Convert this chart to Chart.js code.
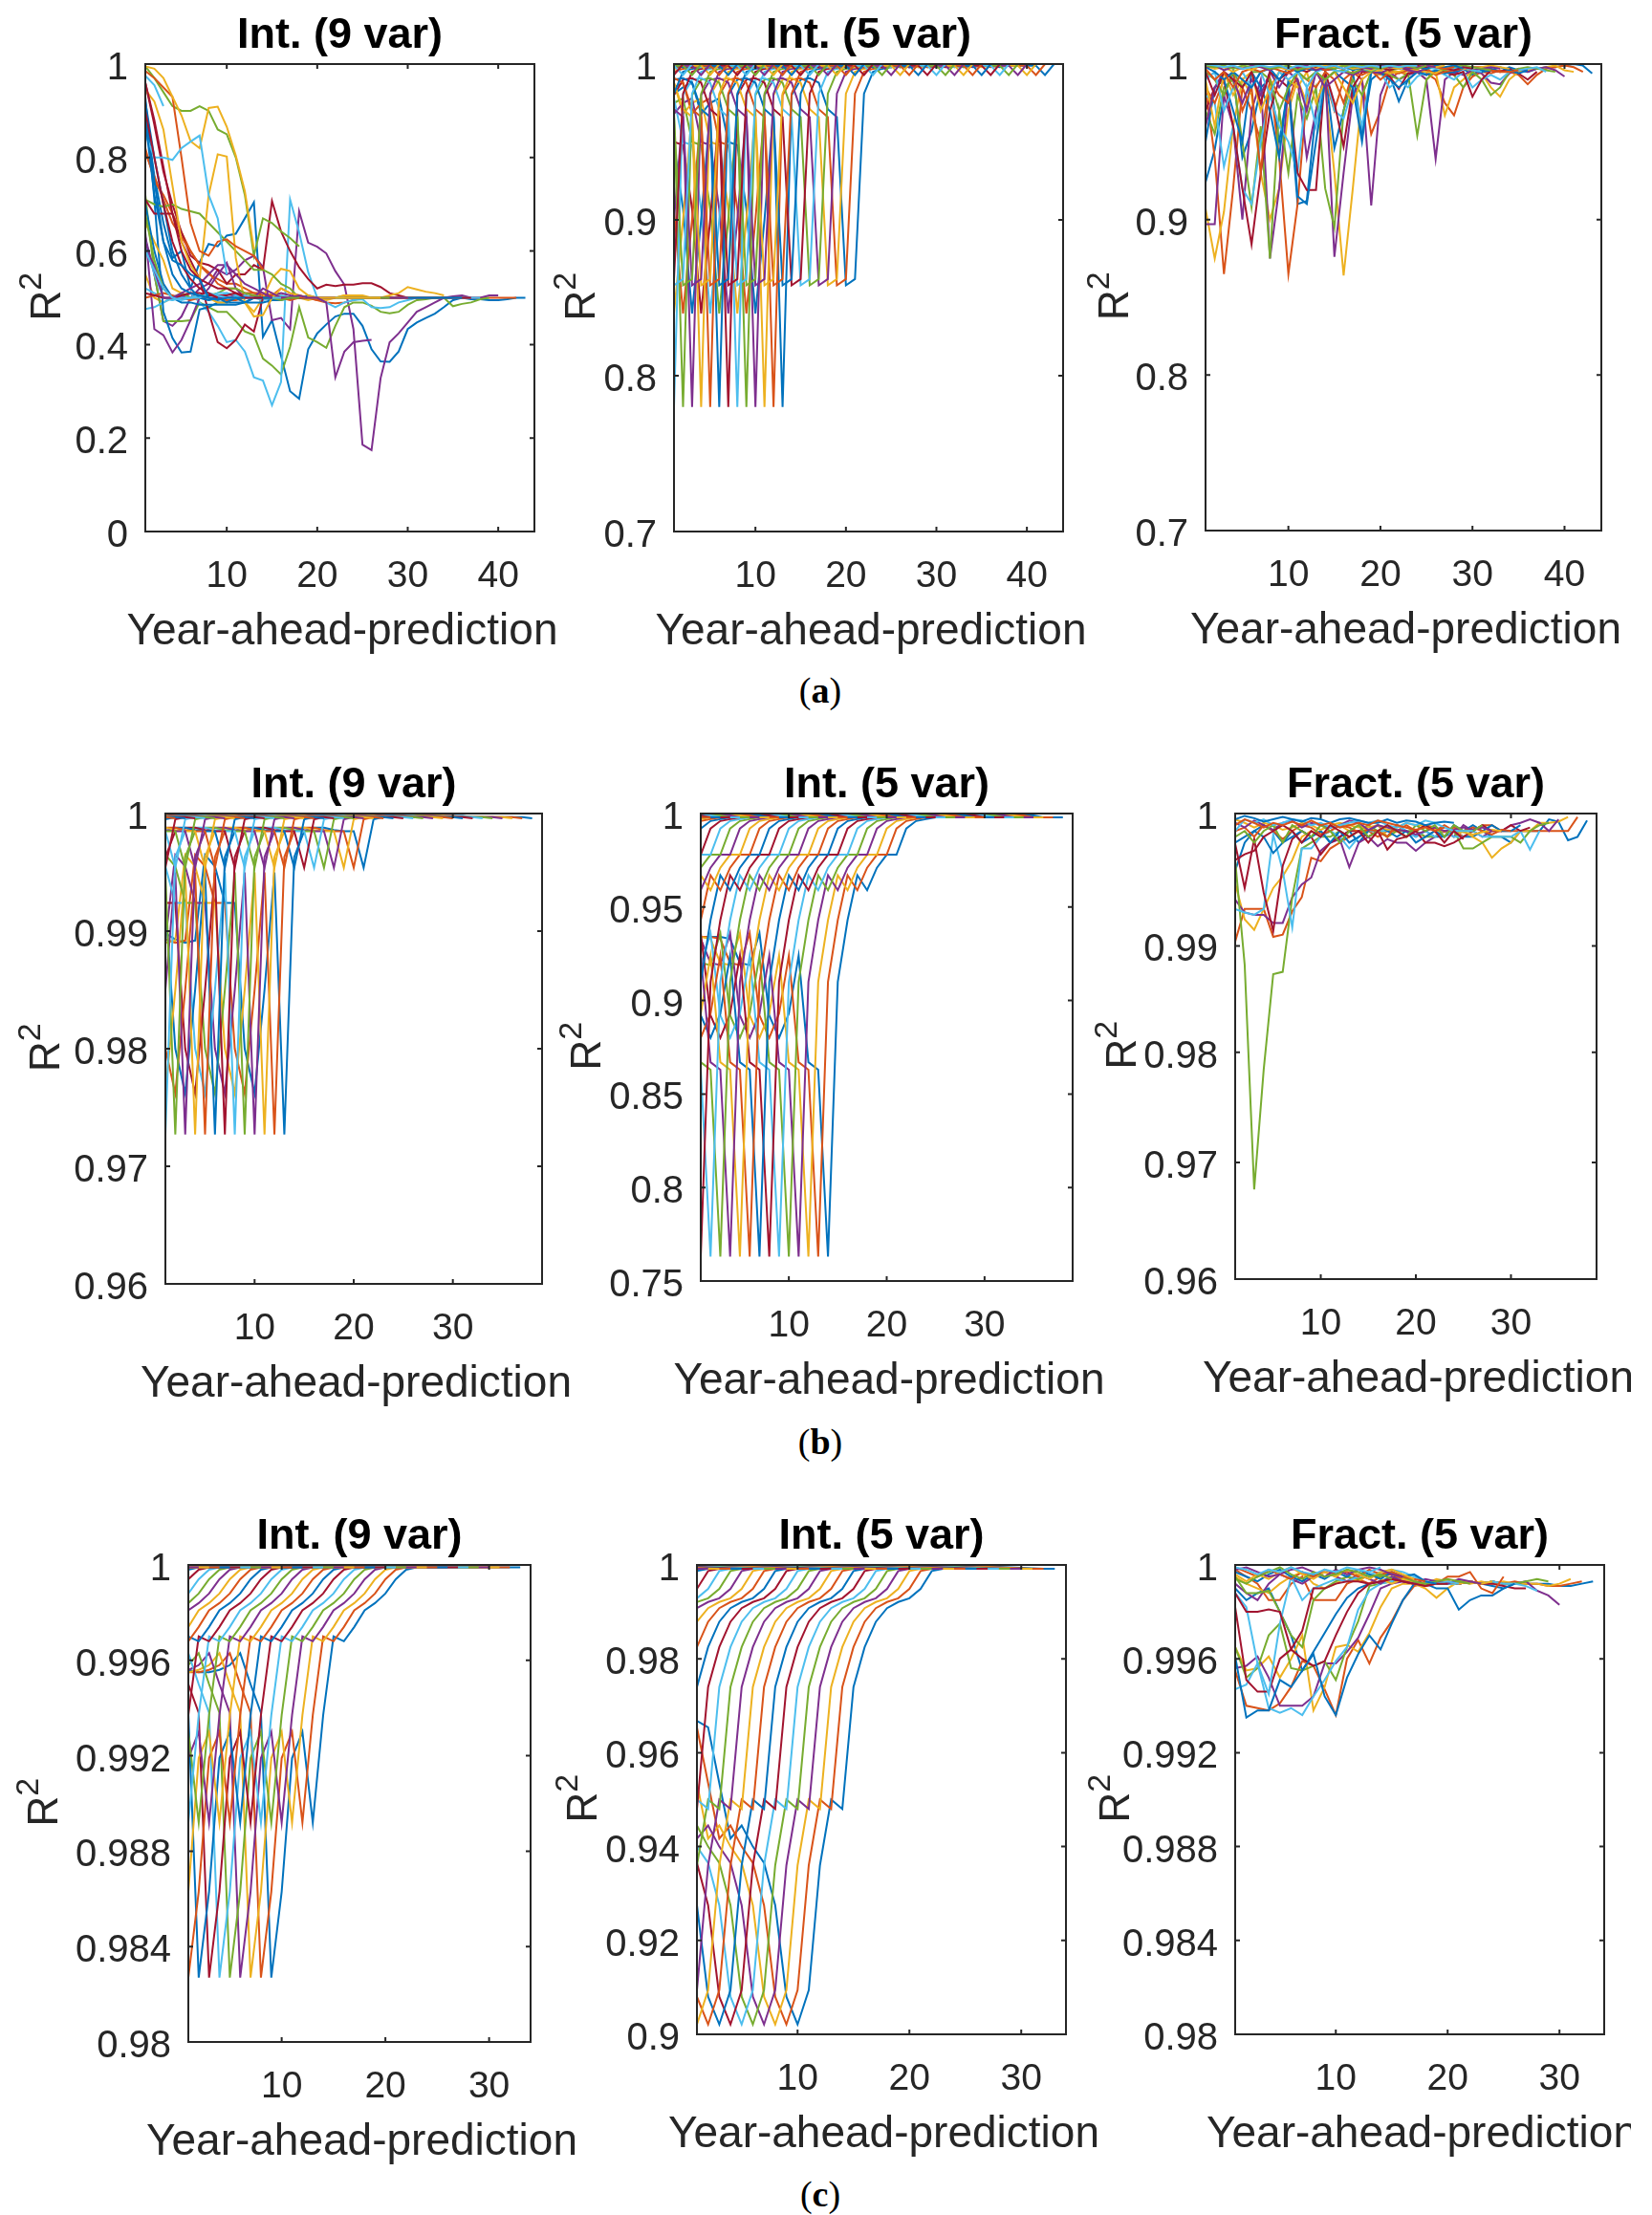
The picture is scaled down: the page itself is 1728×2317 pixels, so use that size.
<!DOCTYPE html>
<html>
<head>
<meta charset="utf-8">
<title>Year-ahead prediction R2</title>
<script src="https://cdn.jsdelivr.net/npm/chart.js@4"></script>
<style>
html, body { margin: 0; background: #fff; }
#page { position: relative; width: 1728px; height: 2317px; overflow: hidden; }
canvas { position: absolute; }
.cap { position: absolute; width: 100px; margin-left: -50px; text-align: center; font: 38px "Liberation Serif", serif; color: #000; line-height: 40px; }
</style>
</head>
<body>
<div id="page"></div>
<script>
'use strict';

const lineColors = ['#0072BD', '#D95319', '#EDB120', '#7E2F8E', '#77AC30', '#4DBEEE', '#A2142F'];

const yearsA = [1,2,3,4,5,6,7,8,9,10,11,12,13,14,15,16,17,18,19,20,21,22,23,24,25,26,27,28,29,30,31,32,33,34,35,36,37,38,39,40,41,42,43,44];
const ticksXA = [10,20,30,40], ticksXBC = [10,20,30];

// row (a), Int. (9 var); empty rows are lines lost in the bundle
const intNineA = [
[.9,.76,.66,.585,.6,.52,.576,.615,.61,.633,.637,.67,.704,.416,.452,.376,.3,.284,.39,.424,.443,.46,.466,.466,.44,.39,.364,.363,.385,.433,.447,.457,.466,.48,.495,.5,.497,.497,.495,.495,.497,.5,.5],
[.82,.75,.72,.68,.64,.6,.57,.55,.54,.53,.53,.52,.51,.51,.505,.52,.51,.505,.5,.495,.49,.488,.49,.495,.5,.5,.5,.5,.5,.5,.5,.5,.5,.5,.5,.5,.5,.5,.5,.5,.5,.5],
[.55,.5,.49,.5,.505,.51,.505,.5,.5,.495,.5,.505,.5,.5,.51,.505,.5,.5,.495,.5,.5,.5,.505,.5,.5,.5,.5,.5,.5,.5,.5,.5,.5,.5,.5,.5],
[.63,.55,.45,.44,.46,.5,.52,.53,.56,.55,.56,.58,.59,.566,.452,.457,.433,.685,.618,.609,.595,.557,.528,.433,.186,.174,.328,.405,.424,.447,.47,.48,.49,.5,.503,.505,.5,.5,.505,.505],
[.72,.55,.45,.45,.45,.452,.49,.48,.47,.47,.45,.428,.42,.37,.355,.336,.395,.48,.415,.405,.393,.44,.48,.49,.49,.483,.47,.467,.47,.485,.495,.497,.5,.5,.482,.487,.49,.497,.5],
[.476,.48,.49,.5,.505,.51,.49,.47,.44,.405,.41,.385,.33,.323,.27,.32,.71,.64,.555,.5,.49,.48,.49,.495,.497,.48,.478,.48,.49,.495,.5,.5,.5,.5,.5,.5,.5,.5],
[.96,.87,.77,.7,.64,.59,.575,.57,.56,.53,.55,.55,.57,.56,.707,.642,.6,.565,.54,.52,.528,.525,.528,.528,.531,.531,.523,.51,.505,.5,.5,.5,.5,.5,.5,.5,.5],
[.93,.71,.47,.414,.383,.385,.475,.48,.49,.49,.49,.49,.5,.5,.495,.5,.5,.5,.505,.5,.5,.5,.5,.5,.5,.5,.5,.5,.5,.5,.5,.5,.5,.5,.5,.5],
[.81,.76,.71,.66,.63,.6,.57,.555,.53,.52,.52,.51,.51,.505,.5,.5,.5,.5,.5,.495,.5,.5,.5,.5,.5,.5,.5,.5,.5,.5],
[.66,.62,.58,.52,.51,.5,.5,.5,.49,.49,.5,.49,.47,.5,.542,.562,.557,.52,.505,.5,.495,.5,.505,.505,.505,.5,.5,.505,.51,.523,.518,.513,.51,.505],
[.64,.433,.42,.383,.41,.452,.5,.52,.55,.575,.52,.5,.5,.5,.505,.51,.505,.5,.5,.5,.5,.5,.5,.5,.5,.5,.5,.5,.5,.5],
[.71,.7,.695,.7,.69,.685,.68,.66,.64,.62,.6,.58,.56,.56,.55,.53,.52,.5,.5,.5,.5,.5,.5,.5,.5,.5,.5,.5],
[.52,.51,.5,.495,.505,.5,.5,.495,.5,.51,.505,.5,.5,.495,.5,.505,.5,.5,.5,.5,.5,.5,.5],
[.71,.68,.68,.68,.62,.58,.54,.47,.405,.392,.41,.443,.428,.5,.505,.5,.5,.5,.5,.5,.5,.5],
[.7,.6,.53,.5,.49,.49,.485,.485,.485,.485,.485,.49,.49,.49,.495,.495,.5,.5,.5,.5],
[.5,.505,.51,.505,.5,.495,.5,.505,.5,.495,.495,.5,.505,.5,.505,.5,.495,.5,.5,.5],
[.945,.92,.86,.74,.62,.57,.54,.72,.807,.802,.585,.49,.46,.463,.5,.52,.51,.505,.5,.5,.5,.5,.5,.5,.5,.5,.5],
[.6,.57,.52,.5,.5,.51,.505,.5,.5,.5,.505,.5,.5,.52,.51,.5,.5,.505,.5,.5,.49,.33,.385,.405,.408,.41],
[.68,.58,.52,.5,.51,.5,.505,.505,.51,.52,.52,.51,.505,.5,.5,.495,.5,.5],
[.62,.55,.5,.495,.5,.5,.505,.5,.51,.51,.505,.5,.5,.5,.5,.5],
[.51,.505,.5,.5,.505,.51,.51,.505,.505,.505,.51,.505,.5,.5,.5],
[.92,.8,.7,.6,.55,.52,.5,.495,.5,.49,.5,.49,.5,.5,.5],
[],
[],
[.62,.56,.5,.5,.51,.52,.53,.55,.57,.57,.55,.53,.52,.51,.5],
[.995,.97,.94,.91,.9,.9,.91,.9,.86,.85,.8,.72,.59,.67,.66,.642,.628,.61],
[.6,.56,.52,.5,.495,.5,.5,.51,.505,.5,.5,.505,.5],
[.96,.88,.78,.68,.6,.56,.54,.53,.52,.52,.51,.5,.5,.5],
[.9,.75,.62,.55,.52,.51,.505,.5,.495,.5,.5,.5],
[.985,.97,.95,.93,.8,.66,.6,.59,.62,.625,.61,.6,.59,.56],
[.995,.99,.97,.93,.89,.835,.82,.906,.909,.866,.804,.728,.604],
[],
[],
[.85,.8,.8,.795,.82,.834,.847,.72,.67,.55],
[.9,.8,.7,.62,.57,.54,.52,.51,.5],
[.88,.72,.62,.58,.57,.55,.54,.5],
[],
[],
[],
[],
[.975,.955,.91]
];

// row (a), Int. (5 var)
const intFiveA = [
[.981,.985,.988,.968,.975,.978,.95,.948,.907,.84,.9,.97,.78,.98,.99,.991,.988,.971,.966,.858,.862,.981,.995,.997,.998,.999,.998,.999,.999,.998,.999,.999,.998,.999,.999,.999,.998,.999,.999,.999,.999,.993,1],
[.985,.988,.968,.975,.978,.95,.948,.907,.84,.9,.97,.78,.98,.99,.991,.988,.971,.966,.858,.862,.981,.995,.997,.998,.999,.998,.999,.999,.998,.999,.999,.998,.999,.999,.999,.998,.999,.999,.999,.999,.993,1],
[.988,.968,.975,.978,.95,.948,.907,.84,.9,.97,.78,.98,.99,.991,.988,.971,.966,.858,.862,.981,.995,.997,.998,.999,.998,.999,.999,.998,.999,.999,.998,.999,.999,.999,.998,.999,.999,.999,.999,.993,1],
[.968,.975,.978,.95,.948,.907,.84,.9,.97,.78,.98,.99,.991,.988,.971,.966,.858,.862,.981,.995,.997,.998,.999,.998,.999,.999,.998,.999,.999,.998,.999,.999,.999,.998,.999,.999,.999,.999,.993,1],
[.975,.978,.95,.948,.907,.84,.9,.97,.78,.98,.99,.991,.988,.971,.966,.858,.862,.981,.995,.997,.998,.999,.998,.999,.999,.998,.999,.999,.998,.999,.999,.999,.998,.999,.999,.999,.999,.993,1],
[.978,.95,.948,.907,.84,.9,.97,.78,.98,.99,.991,.988,.971,.966,.858,.862,.981,.995,.997,.998,.999,.998,.999,.999,.998,.999,.999,.998,.999,.999,.999,.998,.999,.999,.999,.999,.993,1],
[.95,.948,.907,.84,.9,.97,.78,.98,.99,.991,.988,.971,.966,.858,.862,.981,.995,.997,.998,.999,.998,.999,.999,.998,.999,.999,.998,.999,.999,.999,.998,.999,.999,.999,.999,.993,1],
[.948,.907,.84,.9,.97,.78,.98,.99,.991,.988,.971,.966,.858,.862,.981,.995,.997,.998,.999,.998,.999,.999,.998,.999,.999,.998,.999,.999,.999,.998,.999,.999,.999,.999,.993,1],
[.907,.84,.9,.97,.78,.98,.99,.991,.988,.971,.966,.858,.862,.981,.995,.997,.998,.999,.998,.999,.999,.998,.999,.999,.998,.999,.999,.999,.998,.999,.999,.999,.999,.993,1],
[.84,.9,.97,.78,.98,.99,.991,.988,.971,.966,.858,.862,.981,.995,.997,.998,.999,.998,.999,.999,.998,.999,.999,.998,.999,.999,.999,.998,.999,.999,.999,.999,.993,1],
[.9,.97,.78,.98,.99,.991,.988,.971,.966,.858,.862,.981,.995,.997,.998,.999,.998,.999,.999,.998,.999,.999,.998,.999,.999,.999,.998,.999,.999,.999,.999,.993,1],
[.97,.78,.98,.99,.991,.988,.971,.966,.858,.862,.981,.995,.997,.998,.999,.998,.999,.999,.998,.999,.999,.998,.999,.999,.999,.998,.999,.999,.999,.999,.993,1],
[.78,.98,.99,.991,.988,.971,.966,.858,.862,.981,.995,.997,.998,.999,.998,.999,.999,.998,.999,.999,.998,.999,.999,.999,.998,.999,.999,.999,.999,.993,1],
[.98,.99,.991,.988,.971,.966,.858,.862,.981,.995,.997,.998,.999,.998,.999,.999,.998,.999,.999,.998,.999,.999,.999,.998,.999,.999,.999,.999,.993,1],
[.99,.991,.988,.971,.966,.858,.862,.981,.995,.997,.998,.999,.998,.999,.999,.998,.999,.999,.998,.999,.999,.999,.998,.999,.999,.999,.999,.993,1],
[.991,.988,.971,.966,.858,.862,.981,.995,.997,.998,.999,.998,.999,.999,.998,.999,.999,.998,.999,.999,.999,.998,.999,.999,.999,.999,.993,1],
[.988,.971,.966,.858,.862,.981,.995,.997,.998,.999,.998,.999,.999,.998,.999,.999,.998,.999,.999,.999,.998,.999,.999,.999,.999,.993,1],
[.971,.966,.858,.862,.981,.995,.997,.998,.999,.998,.999,.999,.998,.999,.999,.998,.999,.999,.999,.998,.999,.999,.999,.999,.993,1],
[.966,.858,.862,.981,.995,.997,.998,.999,.998,.999,.999,.998,.999,.999,.998,.999,.999,.999,.998,.999,.999,.999,.999,.993,1],
[.858,.862,.981,.995,.997,.998,.999,.998,.999,.999,.998,.999,.999,.998,.999,.999,.999,.998,.999,.999,.999,.999,.993,1],
[.862,.981,.995,.997,.998,.999,.998,.999,.999,.998,.999,.999,.998,.999,.999,.999,.998,.999,.999,.999,.999,.993,1],
[.981,.995,.997,.998,.999,.998,.999,.999,.998,.999,.999,.998,.999,.999,.999,.998,.999,.999,.999,.999,.993,1],
[.995,.997,.998,.999,.998,.999,.999,.998,.999,.999,.998,.999,.999,.999,.998,.999,.999,.999,.999,.993,1],
[.997,.998,.999,.998,.999,.999,.998,.999,.999,.998,.999,.999,.999,.998,.999,.999,.999,.999,.993,1],
[.998,.999,.998,.999,.999,.998,.999,.999,.998,.999,.999,.999,.998,.999,.999,.999,.999,.993,1],
[.999,.998,.999,.999,.998,.999,.999,.998,.999,.999,.999,.998,.999,.999,.999,.999,.993,1],
[.998,.999,.999,.998,.999,.999,.998,.999,.999,.999,.998,.999,.999,.999,.999,.993,1],
[.999,.999,.998,.999,.999,.998,.999,.999,.999,.998,.999,.999,.999,.999,.993,1],
[.999,.998,.999,.999,.998,.999,.999,.999,.998,.999,.999,.999,.999,.993,1],
[.998,.999,.999,.998,.999,.999,.999,.998,.999,.999,.999,.999,.993,1],
[.999,.999,.998,.999,.999,.999,.998,.999,.999,.999,.999,.993,1],
[.999,.998,.999,.999,.999,.998,.999,.999,.999,.999,.993,1],
[.998,.999,.999,.999,.998,.999,.999,.999,.999,.993,1],
[.999,.999,.999,.998,.999,.999,.999,.999,.993,1],
[.999,.999,.998,.999,.999,.999,.999,.993,1],
[.999,.998,.999,.999,.999,.999,.993,1],
[.998,.999,.999,.999,.999,.993,1],
[.999,.999,.999,.999,.993,1],
[.999,.999,.999,.993,1],
[.999,.999,.993,1],
[.999,.993,1],
[.993,1]
];

// row (a), Fract. (5 var)
const fractFiveA = [
[.924,.945,.98,.995,.94,.957,.985,.99,.95,.985,.91,.912,.97,.995,.946,.97,.995,.955,.99,.995,.993,.976,.99,.995,.993,.996,.995,.994,.997,.993,.996,.997,.995,.998,.996,.995,.997,.998,.998,.999,1,.999,.994],
[.985,.94,.865,.92,.985,.97,.95,.99,.94,.865,.91,.98,.995,.99,.97,.99,.995,.99,.955,.97,.99,.995,.993,.996,.994,.99,.975,.967,.985,.992,.995,.994,.996,.995,.993,.987,.993,.997,.998,.999,.998,.995],
[.907,.875,.905,.96,.99,.98,.93,.9,.92,.97,.99,.975,.995,.985,.93,.864,.92,.98,.995,.993,.996,.995,.994,.995,.99,.995,.967,.985,.99,.996,.994,.985,.979,.99,.995,.996,.997,.998,.999,.996,.995],
[.897,.897,.98,.96,.9,.97,.99,.875,.92,.985,.99,.94,.97,.995,.876,.93,.98,.99,.909,.98,.995,.99,.993,.995,.99,.939,.99,.995,.993,.996,.994,.988,.987,.994,.997,.995,.997,.998,.996,.992],
[.97,.955,.985,.99,.95,.908,.96,.875,.97,.93,.98,.965,.985,.92,.895,.97,.99,.98,.995,.995,.993,.99,.994,.954,.99,.996,.995,.993,.985,.995,.99,.98,.985,.995,.997,.998,.997,.996,.995],
[.98,.975,.934,.96,.92,.91,.95,.98,.96,.95,.93,.985,.96,.995,.97,.965,.985,.96,.995,.995,.985,.99,.985,.992,.995,.996,.993,.99,.995,.985,.99,.993,.99,.995,.996,.997,.998,.995],
[.97,.985,.99,.96,.92,.884,.93,.97,.99,.985,.93,.919,.919,.995,.975,.947,.985,.995,.995,.994,.992,.984,.994,.995,.996,.994,.995,.993,.995,.979,.99,.996,.995,.997,.994,.99,.995],
[.95,.985,.99,.97,.95,.995,.985,.97,.94,.99,.915,.91,.95,.99,.995,.99,.985,.95,.995,.995,.99,.985,.99,.995,.993,.996,.994,.995,.997,.996,.995,.996,.998,.996,.994,.996],
[.985,.975,.99,.995,.97,.985,.93,.99,.98,.975,.995,.99,.985,.995,.99,.975,.995,.993,.996,.99,.995,.994,.996,.995,.997,.993,.995,.996,.997,.998,.998,.996,.995,.995,.996],
[.99,.96,.995,.98,.99,.995,.97,.985,.995,.99,.985,.995,.975,.99,.995,.985,.975,.99,.995,.996,.994,.995,.997,.996,.995,.994,.997,.998,.997,.996,.998,.999,.998,.997],
[.96,.985,.995,.99,.975,.99,.98,.995,.985,.995,.99,.97,.995,.985,.99,.995,.993,.996,.995,.994,.997,.998,.996,.995,.997,.998,.997,.999,.998,.996,.997,.998,.997],
[.995,.99,.98,.995,.985,.995,.995,.99,.97,.985,.995,.99,.995,.99,.995,.996,.994,.997,.995,.998,.996,.997,.999,.998,.997,.998,.996,.998,.999,.998,.997,.996],
[.99,.995,.97,.985,.995,.985,.995,.98,.995,.99,.995,.985,.995,.997,.996,.995,.998,.997,.996,.998,.999,.997,.998,.999,.998,.997,.998,.997,.998,.996,.995],
[.995,.98,.995,.99,.985,.995,.975,.995,.99,.995,.997,.995,.998,.996,.997,.999,.998,.997,.999,.998,.996,.998,.997,.999,.998,.999,.997,.996,.998,.997],
[.998,.995,.99,.995,.99,.985,.995,.997,.99,.998,.995,.997,.996,.998,.997,.999,.996,.998,.997,.999,.998,.997,.999,.998,.997,.999,.998,.999,.997],
[.997,.99,.995,.985,.995,.997,.995,.998,.996,.994,.998,.997,.999,.996,.998,.997,.999,.998,.999,.997,.998,.999,.998,.997,.999,.998,.997,.998],
[.999,.997,.998,.995,.998,.996,.999,.997,.998,.996,.999,.998,.997,.999,.998,.999,.997,.998,.996,.999,.998,.997,.999,.998,.999,.998,.999],
[.998,.999,.996,.998,.997,.999,.998,.996,.999,.997,.998,.999,.996,.998,.999,.997,.999,.998,.997,.999,.998,.999,.997,.998,.999,.998],
[.999,.998,.999,.997,.999,.998,.999,.997,.998,.999,.996,.998,.999,.998,.997,.999,.998,.999,.998,.997,.999,.998,.999,.997,.999],
[1,.999,.998,.999,.997,.998,.999,.998,.999,.997,.999,.998,.999,.998,.999,.997,.999,.998,.999,.998,.999,.998,.999,.999]
];

// row (b), Int. (9 var)
const intNineB = [
[.9898,.9893,.989,.9892,.9965,.9955,.9924,.9924,.98,.9762,.985,.995,.9727,.9963,.9985,.9988,.9988,.9986,.9985,.9985,.9954,.9995,.9997,.9998,.9998,.9999,.9999,.9999,.9998,.9998,.9998,.9997,.9997,.9997,.9997,.9997,.9997,.9996],
[.9893,.989,.9892,.9965,.9955,.9924,.9924,.98,.9762,.985,.995,.9727,.9963,.9985,.9988,.9988,.9986,.9985,.9985,.9954,.9995,.9997,.9998,.9998,.9999,.9999,.9999,.9998,.9998,.9998,.9997,.9997,.9997,.9997,.9997,.9997,.9996],
[.989,.9892,.9965,.9955,.9924,.9924,.98,.9762,.985,.995,.9727,.9963,.9985,.9988,.9988,.9986,.9985,.9985,.9954,.9995,.9997,.9998,.9998,.9999,.9999,.9999,.9998,.9998,.9998,.9997,.9997,.9997,.9997,.9997,.9997,.9996],
[.9892,.9965,.9955,.9924,.9924,.98,.9762,.985,.995,.9727,.9963,.9985,.9988,.9988,.9986,.9985,.9985,.9954,.9995,.9997,.9998,.9998,.9999,.9999,.9999,.9998,.9998,.9998,.9997,.9997,.9997,.9997,.9997,.9997,.9996],
[.9965,.9955,.9924,.9924,.98,.9762,.985,.995,.9727,.9963,.9985,.9988,.9988,.9986,.9985,.9985,.9954,.9995,.9997,.9998,.9998,.9999,.9999,.9999,.9998,.9998,.9998,.9997,.9997,.9997,.9997,.9997,.9997,.9996],
[.9955,.9924,.9924,.98,.9762,.985,.995,.9727,.9963,.9985,.9988,.9988,.9986,.9985,.9985,.9954,.9995,.9997,.9998,.9998,.9999,.9999,.9999,.9998,.9998,.9998,.9997,.9997,.9997,.9997,.9997,.9997,.9996],
[.9924,.9924,.98,.9762,.985,.995,.9727,.9963,.9985,.9988,.9988,.9986,.9985,.9985,.9954,.9995,.9997,.9998,.9998,.9999,.9999,.9999,.9998,.9998,.9998,.9997,.9997,.9997,.9997,.9997,.9997,.9996],
[.9924,.98,.9762,.985,.995,.9727,.9963,.9985,.9988,.9988,.9986,.9985,.9985,.9954,.9995,.9997,.9998,.9998,.9999,.9999,.9999,.9998,.9998,.9998,.9997,.9997,.9997,.9997,.9997,.9997,.9996],
[.98,.9762,.985,.995,.9727,.9963,.9985,.9988,.9988,.9986,.9985,.9985,.9954,.9995,.9997,.9998,.9998,.9999,.9999,.9999,.9998,.9998,.9998,.9997,.9997,.9997,.9997,.9997,.9997,.9996],
[.9762,.985,.995,.9727,.9963,.9985,.9988,.9988,.9986,.9985,.9985,.9954,.9995,.9997,.9998,.9998,.9999,.9999,.9999,.9998,.9998,.9998,.9997,.9997,.9997,.9997,.9997,.9997,.9996],
[.985,.995,.9727,.9963,.9985,.9988,.9988,.9986,.9985,.9985,.9954,.9995,.9997,.9998,.9998,.9999,.9999,.9999,.9998,.9998,.9998,.9997,.9997,.9997,.9997,.9997,.9997,.9996],
[.995,.9727,.9963,.9985,.9988,.9988,.9986,.9985,.9985,.9954,.9995,.9997,.9998,.9998,.9999,.9999,.9999,.9998,.9998,.9998,.9997,.9997,.9997,.9997,.9997,.9997,.9996],
[.9727,.9963,.9985,.9988,.9988,.9986,.9985,.9985,.9954,.9995,.9997,.9998,.9998,.9999,.9999,.9999,.9998,.9998,.9998,.9997,.9997,.9997,.9997,.9997,.9997,.9996],
[.9963,.9985,.9988,.9988,.9986,.9985,.9985,.9954,.9995,.9997,.9998,.9998,.9999,.9999,.9999,.9998,.9998,.9998,.9997,.9997,.9997,.9997,.9997,.9997,.9996],
[.9985,.9988,.9988,.9986,.9985,.9985,.9954,.9995,.9997,.9998,.9998,.9999,.9999,.9999,.9998,.9998,.9998,.9997,.9997,.9997,.9997,.9997,.9997,.9996],
[.9988,.9988,.9986,.9985,.9985,.9954,.9995,.9997,.9998,.9998,.9999,.9999,.9999,.9998,.9998,.9998,.9997,.9997,.9997,.9997,.9997,.9997,.9996],
[.9988,.9986,.9985,.9985,.9954,.9995,.9997,.9998,.9998,.9999,.9999,.9999,.9998,.9998,.9998,.9997,.9997,.9997,.9997,.9997,.9997,.9996],
[.9986,.9985,.9985,.9954,.9995,.9997,.9998,.9998,.9999,.9999,.9999,.9998,.9998,.9998,.9997,.9997,.9997,.9997,.9997,.9997,.9996],
[.9985,.9985,.9954,.9995,.9997,.9998,.9998,.9999,.9999,.9999,.9998,.9998,.9998,.9997,.9997,.9997,.9997,.9997,.9997,.9996],
[.9985,.9954,.9995,.9997,.9998,.9998,.9999,.9999,.9999,.9998,.9998,.9998,.9997,.9997,.9997,.9997,.9997,.9997,.9996],
[.9954,.9995,.9997,.9998,.9998,.9999,.9999,.9999,.9998,.9998,.9998,.9997,.9997,.9997,.9997,.9997,.9997,.9996],
[.9995,.9997,.9998,.9998,.9999,.9999,.9999,.9998,.9998,.9998,.9997,.9997,.9997,.9997,.9997,.9997,.9996],
[.9997,.9998,.9998,.9999,.9999,.9999,.9998,.9998,.9998,.9997,.9997,.9997,.9997,.9997,.9997,.9996],
[.9998,.9998,.9999,.9999,.9999,.9998,.9998,.9998,.9997,.9997,.9997,.9997,.9997,.9997,.9996],
[.9998,.9999,.9999,.9999,.9998,.9998,.9998,.9997,.9997,.9997,.9997,.9997,.9997,.9996],
[.9999,.9999,.9999,.9998,.9998,.9998,.9997,.9997,.9997,.9997,.9997,.9997,.9996],
[.9999,.9999,.9998,.9998,.9998,.9997,.9997,.9997,.9997,.9997,.9997,.9996],
[.9999,.9998,.9998,.9998,.9997,.9997,.9997,.9997,.9997,.9997,.9996],
[.9998,.9998,.9998,.9997,.9997,.9997,.9997,.9997,.9997,.9996],
[.9998,.9998,.9997,.9997,.9997,.9997,.9997,.9997,.9996],
[.9998,.9997,.9997,.9997,.9997,.9997,.9997,.9996],
[.9997,.9997,.9997,.9997,.9997,.9997,.9996],
[.9997,.9997,.9997,.9997,.9997,.9996],
[.9997,.9997,.9997,.9997,.9996],
[.9997,.9997,.9997,.9996],
[.9997,.9997,.9996],
[.9997,.9996],
[.9996]
];

// row (b), Int. (5 var)
const intFiveB = [
[.934,.934,.934,.933,.92,.919,.936,.892,.88,.893,.924,.867,.863,.763,.91,.943,.967,.959,.971,.978,.978,.992,.996,.997,.998,.998,.998,.999,.999,.999,.999,.999,.999,.999,.999,.998,.998,.998],
[.934,.934,.933,.92,.919,.936,.892,.88,.893,.924,.867,.863,.763,.91,.943,.967,.959,.971,.978,.978,.992,.996,.997,.998,.998,.998,.999,.999,.999,.999,.999,.999,.999,.999,.998,.998,.998],
[.934,.933,.92,.919,.936,.892,.88,.893,.924,.867,.863,.763,.91,.943,.967,.959,.971,.978,.978,.992,.996,.997,.998,.998,.998,.999,.999,.999,.999,.999,.999,.999,.999,.998,.998,.998],
[.933,.92,.919,.936,.892,.88,.893,.924,.867,.863,.763,.91,.943,.967,.959,.971,.978,.978,.992,.996,.997,.998,.998,.998,.999,.999,.999,.999,.999,.999,.999,.999,.998,.998,.998],
[.92,.919,.936,.892,.88,.893,.924,.867,.863,.763,.91,.943,.967,.959,.971,.978,.978,.992,.996,.997,.998,.998,.998,.999,.999,.999,.999,.999,.999,.999,.999,.998,.998,.998],
[.919,.936,.892,.88,.893,.924,.867,.863,.763,.91,.943,.967,.959,.971,.978,.978,.992,.996,.997,.998,.998,.998,.999,.999,.999,.999,.999,.999,.999,.999,.998,.998,.998],
[.936,.892,.88,.893,.924,.867,.863,.763,.91,.943,.967,.959,.971,.978,.978,.992,.996,.997,.998,.998,.998,.999,.999,.999,.999,.999,.999,.999,.999,.998,.998,.998],
[.892,.88,.893,.924,.867,.863,.763,.91,.943,.967,.959,.971,.978,.978,.992,.996,.997,.998,.998,.998,.999,.999,.999,.999,.999,.999,.999,.999,.998,.998,.998],
[.88,.893,.924,.867,.863,.763,.91,.943,.967,.959,.971,.978,.978,.992,.996,.997,.998,.998,.998,.999,.999,.999,.999,.999,.999,.999,.999,.998,.998,.998],
[.893,.924,.867,.863,.763,.91,.943,.967,.959,.971,.978,.978,.992,.996,.997,.998,.998,.998,.999,.999,.999,.999,.999,.999,.999,.999,.998,.998,.998],
[.924,.867,.863,.763,.91,.943,.967,.959,.971,.978,.978,.992,.996,.997,.998,.998,.998,.999,.999,.999,.999,.999,.999,.999,.999,.998,.998,.998],
[.867,.863,.763,.91,.943,.967,.959,.971,.978,.978,.992,.996,.997,.998,.998,.998,.999,.999,.999,.999,.999,.999,.999,.999,.998,.998,.998],
[.863,.763,.91,.943,.967,.959,.971,.978,.978,.992,.996,.997,.998,.998,.998,.999,.999,.999,.999,.999,.999,.999,.999,.998,.998,.998],
[.763,.91,.943,.967,.959,.971,.978,.978,.992,.996,.997,.998,.998,.998,.999,.999,.999,.999,.999,.999,.999,.999,.998,.998,.998],
[.91,.943,.967,.959,.971,.978,.978,.992,.996,.997,.998,.998,.998,.999,.999,.999,.999,.999,.999,.999,.999,.998,.998,.998],
[.943,.967,.959,.971,.978,.978,.992,.996,.997,.998,.998,.998,.999,.999,.999,.999,.999,.999,.999,.999,.998,.998,.998],
[.967,.959,.971,.978,.978,.992,.996,.997,.998,.998,.998,.999,.999,.999,.999,.999,.999,.999,.999,.998,.998,.998],
[.959,.971,.978,.978,.992,.996,.997,.998,.998,.998,.999,.999,.999,.999,.999,.999,.999,.999,.998,.998,.998],
[.971,.978,.978,.992,.996,.997,.998,.998,.998,.999,.999,.999,.999,.999,.999,.999,.999,.998,.998,.998],
[.978,.978,.992,.996,.997,.998,.998,.998,.999,.999,.999,.999,.999,.999,.999,.999,.998,.998,.998],
[.978,.992,.996,.997,.998,.998,.998,.999,.999,.999,.999,.999,.999,.999,.999,.998,.998,.998],
[.992,.996,.997,.998,.998,.998,.999,.999,.999,.999,.999,.999,.999,.999,.998,.998,.998],
[.996,.997,.998,.998,.998,.999,.999,.999,.999,.999,.999,.999,.999,.998,.998,.998],
[.997,.998,.998,.998,.999,.999,.999,.999,.999,.999,.999,.999,.998,.998,.998],
[.998,.998,.998,.999,.999,.999,.999,.999,.999,.999,.999,.998,.998,.998],
[.998,.998,.999,.999,.999,.999,.999,.999,.999,.999,.998,.998,.998],
[.998,.999,.999,.999,.999,.999,.999,.999,.999,.998,.998,.998],
[.999,.999,.999,.999,.999,.999,.999,.999,.998,.998,.998],
[.999,.999,.999,.999,.999,.999,.999,.998,.998,.998],
[.999,.999,.999,.999,.999,.999,.998,.998,.998],
[.999,.999,.999,.999,.999,.998,.998,.998],
[.999,.999,.999,.999,.998,.998,.998],
[.999,.999,.999,.998,.998,.998],
[.999,.999,.998,.998,.998],
[.999,.998,.998,.998],
[.998,.998,.998],
[.998,.998],
[.998]
];

// row (b), Fract. (5 var)
const fractFiveB = [
[.9951,.9975,.9985,.999,.9985,.9975,.9985,.9975,.998,.9985,.9975,.998,.9985,.9975,.9985,.9985,.998,.999,.9985,.998,.9985,.998,.998,.9985,.998,.998,.9985,.998,.998,.9975,.9985,.9985,.9985,.9995,.9993,.9977,.998,.9994],
[.989,.9918,.9918,.9918,.9894,.9896,.9916,.9928,.9962,.9959,.997,.9975,.998,.9985,.9985,.998,.9985,.9985,.999,.9985,.998,.9985,.999,.9985,.998,.9985,.999,.999,.9985,.9985,.9985,.9985,.9985,.9985,.9985,.9985,.9997],
[.994,.9909,.99,.9918,.9936,.9946,.996,.998,.9985,.998,.9985,.999,.9985,.999,.9985,.999,.998,.9985,.998,.9985,.999,.9985,.9985,.998,.9985,.998,.9975,.9962,.997,.9975,.9985,.9985,.9992,.9992,.9993,.9997],
[.9926,.9915,.9913,.9913,.9906,.9906,.9928,.9939,.9945,.9968,.9975,.9978,.9954,.9975,.998,.9972,.9978,.9975,.9975,.9968,.9975,.998,.9985,.998,.999,.9985,.998,.9985,.9985,.999,.9992,.9995,.9992,.9985,.9995],
[.996,.987,.9677,.978,.9862,.9864,.9928,.997,.9975,.998,.998,.9985,.998,.9985,.999,.9985,.998,.9985,.9985,.9985,.998,.998,.9985,.9985,.997,.997,.9975,.998,.998,.998,.9975,.9985,.999,.9992],
[.9918,.9915,.9913,.9918,.9982,.9951,.9902,.997,.997,.998,.9985,.998,.997,.998,.9985,.9985,.9985,.999,.9985,.998,.9985,.998,.9985,.998,.998,.9985,.998,.998,.998,.998,.9985,.9969,.9985],
[.9974,.9936,.9978,.9932,.9899,.9955,.9978,.9985,.998,.9965,.9975,.998,.9985,.9985,.998,.9985,.9969,.9978,.998,.9985,.9975,.9975,.9972,.9975,.998,.9985,.999,.9985,.9985,.999,.9985,.9988],
[.9975,.998,.9985,.998,.9966,.9975,.998,.9985,.998,.9985,.9975,.9985,.9975,.998,.9985,.999,.9985,.998,.9985,.9975,.998,.9985,.998,.999,.9985,.999,.9985,.999,.9985,.9985,.999],
[.9985,.9988,.998,.999,.9985,.9978,.9985,.999,.9988,.9982,.9985,.999,.9988,.9984,.9986,.9985,.998,.999,.9988,.9985,.999,.9988,.9984,.9988,.9985,.9988,.9985,.9982,.9986,.9985],
[.9995,.9992,.9988,.9992,.999,.9986,.9988,.9992,.999,.9986,.999,.9992,.999,.9988,.9988,.999,.9986,.9988,.9992,.999,.999,.9986,.9985,.9985,.9984,.9982,.9984,.9986,.9985],
[.9992,.9988,.9994,.999,.9986,.9992,.9994,.9988,.9992,.999,.9988,.999,.9994,.9992,.9986,.999,.9988,.9986,.9985,.9982,.9985,.9988,.9985,.9986,.9988,.9986,.9988,.9985],
[.998,.9985,.9975,.9985,.999,.9975,.999,.9985,.998,.999,.9985,.9975,.9985,.999,.998,.9985,.999,.9985,.998,.999,.9985,.999,.998,.999,.9985,.9985,.999],
[.9985,.9995,.9992,.9995,.999,.9992,.9995,.9994,.999,.9992,.9988,.999,.9992,.9994,.9992,.9994,.999,.9988,.9992,.999,.9994,.9992,.9988,.9985,.9985,.9985],
[.996,.9965,.9968,.998,.9985,.999,.9985,.9975,.9985,.998,.999,.9985,.998,.9985,.9975,.9985,.999,.9985,.998,.9985,.999,.9985,.9975,.9985,.9978],
[.9995,.9998,.9996,.9993,.9995,.9997,.9995,.9993,.9996,.9995,.9992,.9995,.9996,.9994,.9992,.9992,.9995,.9992,.9994,.9993,.999,.9992,.9993,.9992],
[.999,.9995,.9992,.9988,.9992,.999,.9993,.999,.9994,.999,.9992,.9988,.999,.9992,.999,.9994,.9992,.999,.9988,.9986,.9988,.9985,.9988]
];

// row (c), Int. (9 var)
const intNineC = [
[.9956,.9955,.9955,.9956,.9958,.9963,.995,.9938,.9827,.9863,.9919,.993,.9892,.9937,.997,.9968,.9974,.9981,.9984,.9988,.9994,.9998,.9999,.9999,.9999,.9999,.9999,.9999,.9999,.9999,.9999,.9999,.9999],
[.9955,.9955,.9956,.9958,.9963,.995,.9938,.9827,.9863,.9919,.993,.9892,.9937,.997,.9968,.9974,.9981,.9984,.9988,.9994,.9998,.9999,.9999,.9999,.9999,.9999,.9999,.9999,.9999,.9999,.9999,.9999],
[.9955,.9956,.9958,.9963,.995,.9938,.9827,.9863,.9919,.993,.9892,.9937,.997,.9968,.9974,.9981,.9984,.9988,.9994,.9998,.9999,.9999,.9999,.9999,.9999,.9999,.9999,.9999,.9999,.9999,.9999],
[.9956,.9958,.9963,.995,.9938,.9827,.9863,.9919,.993,.9892,.9937,.997,.9968,.9974,.9981,.9984,.9988,.9994,.9998,.9999,.9999,.9999,.9999,.9999,.9999,.9999,.9999,.9999,.9999,.9999],
[.9958,.9963,.995,.9938,.9827,.9863,.9919,.993,.9892,.9937,.997,.9968,.9974,.9981,.9984,.9988,.9994,.9998,.9999,.9999,.9999,.9999,.9999,.9999,.9999,.9999,.9999,.9999,.9999],
[.9963,.995,.9938,.9827,.9863,.9919,.993,.9892,.9937,.997,.9968,.9974,.9981,.9984,.9988,.9994,.9998,.9999,.9999,.9999,.9999,.9999,.9999,.9999,.9999,.9999,.9999,.9999],
[.995,.9938,.9827,.9863,.9919,.993,.9892,.9937,.997,.9968,.9974,.9981,.9984,.9988,.9994,.9998,.9999,.9999,.9999,.9999,.9999,.9999,.9999,.9999,.9999,.9999,.9999],
[.9938,.9827,.9863,.9919,.993,.9892,.9937,.997,.9968,.9974,.9981,.9984,.9988,.9994,.9998,.9999,.9999,.9999,.9999,.9999,.9999,.9999,.9999,.9999,.9999,.9999],
[.9827,.9863,.9919,.993,.9892,.9937,.997,.9968,.9974,.9981,.9984,.9988,.9994,.9998,.9999,.9999,.9999,.9999,.9999,.9999,.9999,.9999,.9999,.9999,.9999],
[.9863,.9919,.993,.9892,.9937,.997,.9968,.9974,.9981,.9984,.9988,.9994,.9998,.9999,.9999,.9999,.9999,.9999,.9999,.9999,.9999,.9999,.9999,.9999],
[.9919,.993,.9892,.9937,.997,.9968,.9974,.9981,.9984,.9988,.9994,.9998,.9999,.9999,.9999,.9999,.9999,.9999,.9999,.9999,.9999,.9999,.9999],
[.993,.9892,.9937,.997,.9968,.9974,.9981,.9984,.9988,.9994,.9998,.9999,.9999,.9999,.9999,.9999,.9999,.9999,.9999,.9999,.9999,.9999],
[.9892,.9937,.997,.9968,.9974,.9981,.9984,.9988,.9994,.9998,.9999,.9999,.9999,.9999,.9999,.9999,.9999,.9999,.9999,.9999,.9999],
[.9937,.997,.9968,.9974,.9981,.9984,.9988,.9994,.9998,.9999,.9999,.9999,.9999,.9999,.9999,.9999,.9999,.9999,.9999,.9999],
[.997,.9968,.9974,.9981,.9984,.9988,.9994,.9998,.9999,.9999,.9999,.9999,.9999,.9999,.9999,.9999,.9999,.9999,.9999],
[.9968,.9974,.9981,.9984,.9988,.9994,.9998,.9999,.9999,.9999,.9999,.9999,.9999,.9999,.9999,.9999,.9999,.9999],
[.9974,.9981,.9984,.9988,.9994,.9998,.9999,.9999,.9999,.9999,.9999,.9999,.9999,.9999,.9999,.9999,.9999],
[.9981,.9984,.9988,.9994,.9998,.9999,.9999,.9999,.9999,.9999,.9999,.9999,.9999,.9999,.9999,.9999],
[.9984,.9988,.9994,.9998,.9999,.9999,.9999,.9999,.9999,.9999,.9999,.9999,.9999,.9999,.9999],
[.9988,.9994,.9998,.9999,.9999,.9999,.9999,.9999,.9999,.9999,.9999,.9999,.9999,.9999],
[.9994,.9998,.9999,.9999,.9999,.9999,.9999,.9999,.9999,.9999,.9999,.9999,.9999],
[.9998,.9999,.9999,.9999,.9999,.9999,.9999,.9999,.9999,.9999,.9999,.9999],
[.9999,.9999,.9999,.9999,.9999,.9999,.9999,.9999,.9999,.9999,.9999],
[.9999,.9999,.9999,.9999,.9999,.9999,.9999,.9999,.9999,.9999],
[.9999,.9999,.9999,.9999,.9999,.9999,.9999,.9999,.9999],
[.9999,.9999,.9999,.9999,.9999,.9999,.9999,.9999],
[.9999,.9999,.9999,.9999,.9999,.9999,.9999],
[.9999,.9999,.9999,.9999,.9999,.9999],
[.9999,.9999,.9999,.9999,.9999],
[.9999,.9999,.9999,.9999],
[.9999,.9999,.9999],
[.9999,.9999],
[.9999]
];

// row (c), Int. (5 var)
const intFiveC = [
[.9668,.9654,.9535,.9417,.9445,.94,.9365,.9275,.908,.9021,.9094,.936,.95,.948,.974,.9825,.9879,.9908,.9921,.9929,.9949,.9987,.9992,.9995,.9996,.9997,.9997,.9996,.9995,.9994,.9993,.9992,.9992],
[.9654,.9535,.9417,.9445,.94,.9365,.9275,.908,.9021,.9094,.936,.95,.948,.974,.9825,.9879,.9908,.9921,.9929,.9949,.9987,.9992,.9995,.9996,.9997,.9997,.9996,.9995,.9994,.9993,.9992,.9992],
[.9535,.9417,.9445,.94,.9365,.9275,.908,.9021,.9094,.936,.95,.948,.974,.9825,.9879,.9908,.9921,.9929,.9949,.9987,.9992,.9995,.9996,.9997,.9997,.9996,.9995,.9994,.9993,.9992,.9992],
[.9417,.9445,.94,.9365,.9275,.908,.9021,.9094,.936,.95,.948,.974,.9825,.9879,.9908,.9921,.9929,.9949,.9987,.9992,.9995,.9996,.9997,.9997,.9996,.9995,.9994,.9993,.9992,.9992],
[.9445,.94,.9365,.9275,.908,.9021,.9094,.936,.95,.948,.974,.9825,.9879,.9908,.9921,.9929,.9949,.9987,.9992,.9995,.9996,.9997,.9997,.9996,.9995,.9994,.9993,.9992,.9992],
[.94,.9365,.9275,.908,.9021,.9094,.936,.95,.948,.974,.9825,.9879,.9908,.9921,.9929,.9949,.9987,.9992,.9995,.9996,.9997,.9997,.9996,.9995,.9994,.9993,.9992,.9992],
[.9365,.9275,.908,.9021,.9094,.936,.95,.948,.974,.9825,.9879,.9908,.9921,.9929,.9949,.9987,.9992,.9995,.9996,.9997,.9997,.9996,.9995,.9994,.9993,.9992,.9992],
[.9275,.908,.9021,.9094,.936,.95,.948,.974,.9825,.9879,.9908,.9921,.9929,.9949,.9987,.9992,.9995,.9996,.9997,.9997,.9996,.9995,.9994,.9993,.9992,.9992],
[.908,.9021,.9094,.936,.95,.948,.974,.9825,.9879,.9908,.9921,.9929,.9949,.9987,.9992,.9995,.9996,.9997,.9997,.9996,.9995,.9994,.9993,.9992,.9992],
[.9021,.9094,.936,.95,.948,.974,.9825,.9879,.9908,.9921,.9929,.9949,.9987,.9992,.9995,.9996,.9997,.9997,.9996,.9995,.9994,.9993,.9992,.9992],
[.9094,.936,.95,.948,.974,.9825,.9879,.9908,.9921,.9929,.9949,.9987,.9992,.9995,.9996,.9997,.9997,.9996,.9995,.9994,.9993,.9992,.9992],
[.936,.95,.948,.974,.9825,.9879,.9908,.9921,.9929,.9949,.9987,.9992,.9995,.9996,.9997,.9997,.9996,.9995,.9994,.9993,.9992,.9992],
[.95,.948,.974,.9825,.9879,.9908,.9921,.9929,.9949,.9987,.9992,.9995,.9996,.9997,.9997,.9996,.9995,.9994,.9993,.9992,.9992],
[.948,.974,.9825,.9879,.9908,.9921,.9929,.9949,.9987,.9992,.9995,.9996,.9997,.9997,.9996,.9995,.9994,.9993,.9992,.9992],
[.974,.9825,.9879,.9908,.9921,.9929,.9949,.9987,.9992,.9995,.9996,.9997,.9997,.9996,.9995,.9994,.9993,.9992,.9992],
[.9825,.9879,.9908,.9921,.9929,.9949,.9987,.9992,.9995,.9996,.9997,.9997,.9996,.9995,.9994,.9993,.9992,.9992],
[.9879,.9908,.9921,.9929,.9949,.9987,.9992,.9995,.9996,.9997,.9997,.9996,.9995,.9994,.9993,.9992,.9992],
[.9908,.9921,.9929,.9949,.9987,.9992,.9995,.9996,.9997,.9997,.9996,.9995,.9994,.9993,.9992,.9992],
[.9921,.9929,.9949,.9987,.9992,.9995,.9996,.9997,.9997,.9996,.9995,.9994,.9993,.9992,.9992],
[.9929,.9949,.9987,.9992,.9995,.9996,.9997,.9997,.9996,.9995,.9994,.9993,.9992,.9992],
[.9949,.9987,.9992,.9995,.9996,.9997,.9997,.9996,.9995,.9994,.9993,.9992,.9992],
[.9987,.9992,.9995,.9996,.9997,.9997,.9996,.9995,.9994,.9993,.9992,.9992],
[.9992,.9995,.9996,.9997,.9997,.9996,.9995,.9994,.9993,.9992,.9992],
[.9995,.9996,.9997,.9997,.9996,.9995,.9994,.9993,.9992,.9992],
[.9996,.9997,.9997,.9996,.9995,.9994,.9993,.9992,.9992],
[.9997,.9997,.9996,.9995,.9994,.9993,.9992,.9992],
[.9997,.9996,.9995,.9994,.9993,.9992,.9992],
[.9996,.9995,.9994,.9993,.9992,.9992],
[.9995,.9994,.9993,.9992,.9992],
[.9994,.9993,.9992,.9992],
[.9993,.9992,.9992],
[.9992,.9992],
[.9992]
];

// row (c), Fract. (5 var)
const fractFiveC = [
[.999,.9985,.9988,.999,.998,.997,.9955,.9963,.9971,.9979,.9986,.999,.9992,.9993,.9995,.9994,.9993,.9992,.9992,.9992,.9992,.9993,.9992,.9991,.999,.9992,.9992,.9992,.9992,.9991,.9991,.9992,.9993],
[.9955,.994,.9939,.9938,.9941,.9948,.9959,.9957,.9947,.9936,.996,.9968,.9958,.9969,.9976,.9985,.9991,.9992,.9992,.9993,.9992,.9993,.9992,.9993,.9992,.9993,.9992,.9992,.9991,.9991,.9992,.9993],
[.9965,.9955,.9956,.9961,.9952,.996,.997,.9938,.9948,.9965,.9966,.9963,.9971,.9982,.999,.9992,.9992,.999,.9986,.999,.9993,.9992,.9993,.9992,.9993,.9992,.9992,.9992,.9991,.9992,.9994],
[.9956,.9957,.9961,.9952,.994,.994,.994,.9944,.9958,.9958,.9963,.9969,.9979,.999,.9992,.9993,.9992,.9991,.9992,.9993,.9992,.9993,.9992,.9993,.9992,.9992,.9993,.9989,.9987,.9983],
[.9965,.9952,.9956,.997,.9975,.9956,.9955,.9957,.9959,.9951,.9965,.9976,.9991,.9992,.9993,.9994,.9993,.9992,.9992,.9992,.9993,.9993,.9992,.9993,.9992,.9992,.9993,.9994,.9993],
[.9947,.9949,.9958,.9939,.9937,.9939,.9936,.9944,.9951,.9959,.9965,.9981,.9989,.9992,.9993,.9995,.9993,.9992,.9993,.9992,.9992,.9993,.9992,.9993,.9992,.9992,.9991,.9989],
[.9982,.9951,.9946,.9946,.996,.9964,.996,.9957,.9959,.997,.998,.9988,.9992,.9993,.9994,.9993,.9992,.9992,.9992,.9993,.9992,.9993,.9992,.9992,.9991,.999,.999],
[.9961,.9935,.9938,.9938,.9951,.9948,.9955,.9962,.9944,.9936,.9952,.9962,.997,.9964,.9975,.9985,.9992,.9992,.999,.999,.9981,.9985,.9987,.9987,.999,.9992],
[.9998,.9995,.9992,.9985,.9985,.9992,.9995,.9985,.9985,.9985,.9992,.9994,.9992,.9995,.9996,.9994,.9993,.9991,.9992,.9995,.9995,.9997,.999,.9988,.9995],
[.9995,.9992,.999,.9988,.9992,.9995,.9997,.9992,.999,.9992,.9995,.9993,.9996,.9994,.9992,.9994,.9993,.9992,.9994,.9993,.9992,.9993,.9992,.9993],
[.9992,.9988,.9985,.9992,.9996,.9994,.9992,.9995,.9997,.9995,.9993,.9996,.9994,.9992,.9995,.9993,.9992,.9994,.9993,.9992,.9994,.9993,.9992],
[.9995,.9988,.9988,.9989,.998,.997,.9965,.9985,.999,.9993,.9995,.9994,.9996,.9995,.9997,.9995,.9993,.9992,.9993,.9994,.9993,.9992],
[.9988,.9982,.9958,.9945,.9975,.9995,.9985,.999,.9992,.9994,.9993,.9995,.9996,.9997,.9998,.9997,.9995,.9993,.9992,.9993,.9992],
[.9988,.998,.998,.9981,.998,.9964,.9972,.999,.999,.9992,.9993,.9993,.9992,.9993,.9994,.9993,.9992,.9991,.9992,.9992],
[.9997,.9995,.9993,.9996,.9998,.9995,.9993,.9996,.9994,.9997,.9995,.9998,.9996,.9994,.9997,.9995,.9996,.9993,.9992],
[.9999,.9997,.9995,.9998,.9996,.9994,.9997,.9995,.9998,.9996,.9997,.9995,.9998,.9996,.9997,.9995,.9994,.9993],
[.9996,.9993,.9996,.9994,.9997,.9999,.9996,.9994,.9997,.9995,.9998,.9996,.9994,.9997,.9998,.9996,.9994],
[.9998,.9999,.9997,.9995,.9996,.9998,.9999,.9997,.9995,.9998,.9996,.9998,.9999,.9998,.9996,.9995],
[.9994,.9992,.9995,.9997,.9999,.9996,.9994,.9997,.9995,.9996,.9998,.9997,.9995,.9996,.9994],
[.9999,.9998,.9996,.9998,.9997,.9999,.9997,.9996,.9998,.9997,.9999,.9998,.9997,.9999]
];

const ticksY1 = [0,.2,.4,.6,.8,1], labelsY1 = ['0','0.2','0.4','0.6','0.8','1'];
const ticksY2 = [.7,.8,.9,1], labelsY2 = ['0.7','0.8','0.9','1'];
const ticksY3 = [.96,.97,.98,.99,1], labelsY3 = ['0.96','0.97','0.98','0.99','1'];
const ticksY4 = [.75,.8,.85,.9,.95,1], labelsY4 = ['0.75','0.8','0.85','0.9','0.95','1'];
// the .99/.98 ticks of this panel sit off the even spacing in the picture
const ticksY5 = [.96,.97003,.97948,.98863,1];
const ticksY6 = [.98,.984,.988,.992,.996,1], labelsY6 = ['0.98','0.984','0.988','0.992','0.996','1'];
const ticksY7 = [.9,.92,.94,.96,.98,1], labelsY7 = ['0.9','0.92','0.94','0.96','0.98','1'];

// layout: plot box [left, top, right, bottom] in page pixels, x of the R2 label, x max, right margin
const panels = [
  { title: 'Int. (9 var)',   rows: intNineA,   yT: ticksY1, yL: labelsY1, box: [152,67,559,556],     rX: 41,   xMax: 44, xT: ticksXA,  rm: 60 },
  { title: 'Int. (5 var)',   rows: intFiveA,   yT: ticksY2, yL: labelsY2, box: [705,67,1112,556],    rX: 600,  xMax: 44, xT: ticksXA,  rm: 60 },
  { title: 'Fract. (5 var)', rows: fractFiveA, yT: ticksY2, yL: labelsY2, box: [1261,67,1675,555],   rX: 1158, xMax: 44, xT: ticksXA,  rm: 40 },
  { title: 'Int. (9 var)',   rows: intNineB,   yT: ticksY3, yL: labelsY3, box: [173,851,567,1343],   rX: 40,   xMax: 39, xT: ticksXBC, rm: 60 },
  { title: 'Int. (5 var)',   rows: intFiveB,   yT: ticksY4, yL: labelsY4, box: [733,851,1122,1340],  rX: 606,  xMax: 39, xT: ticksXBC, rm: 60 },
  { title: 'Fract. (5 var)', rows: fractFiveB, yT: ticksY5, yL: labelsY3, box: [1292,851,1670,1338], rX: 1166, xMax: 39, xT: ticksXBC, rm: 36 },
  { title: 'Int. (9 var)',   rows: intNineC,   yT: ticksY6, yL: labelsY6, box: [197,1637,555,2136],  rX: 38,   xMax: 34, xT: ticksXBC, rm: 60 },
  { title: 'Int. (5 var)',   rows: intFiveC,   yT: ticksY7, yL: labelsY7, box: [729,1637,1115,2128], rX: 602,  xMax: 34, xT: ticksXBC, rm: 60 },
  { title: 'Fract. (5 var)', rows: fractFiveC, yT: ticksY6, yL: labelsY6, box: [1292,1637,1678,2128], rX: 1159, xMax: 34, xT: ticksXBC, rm: 28 }
];

const captions = [['(', 'a', ')', 722], ['(', 'b', ')', 1508], ['(', 'c', ')', 2295]];

const TITLE_BOX = 55, AXIS_BOX = 130, TEXT = '#262626', FONT = '"Liberation Sans", Arial, sans-serif';

// MATLAB style box: full frame, short ticks pointing inwards, plus the axis labels
const matlabBox = {
  id: 'matlabBox',
  afterDraw(chart, args, opts) {
    const { ctx, chartArea: a, scales: { x, y } } = chart;
    ctx.save();
    ctx.strokeStyle = TEXT;
    ctx.lineWidth = 2;
    ctx.strokeRect(a.left, a.top, a.right - a.left, a.bottom - a.top);
    ctx.beginPath();
    x.ticks.forEach(t => {
      const p = x.getPixelForValue(t.value);
      ctx.moveTo(p, a.bottom); ctx.lineTo(p, a.bottom - 5);
      ctx.moveTo(p, a.top); ctx.lineTo(p, a.top + 5);
    });
    y.ticks.forEach(t => {
      const p = y.getPixelForValue(t.value);
      ctx.moveTo(a.left, p); ctx.lineTo(a.left + 5, p);
      ctx.moveTo(a.right, p); ctx.lineTo(a.right - 5, p);
    });
    ctx.stroke();
    ctx.fillStyle = TEXT;
    ctx.font = '46px ' + FONT;
    ctx.textAlign = 'center';
    ctx.textBaseline = 'middle';
    ctx.fillText('Year-ahead-prediction', (a.left + a.right) / 2 + 2.5, a.bottom + 105);

    // R with a real superscript, turned a quarter
    ctx.translate(a.left - opts.rOffset + 22, (a.top + a.bottom) / 2 + 24);
    ctx.rotate(-Math.PI / 2);
    ctx.textAlign = 'left';
    ctx.textBaseline = 'alphabetic';
    ctx.font = '44px ' + FONT;
    ctx.fillText('R', 0, 0);
    const rWidth = ctx.measureText('R').width;
    ctx.font = '34px ' + FONT;
    ctx.fillText('2', rWidth, -20);
    ctx.restore();
  }
};

const page = document.querySelector('#page');

panels.forEach(panel => {
  const [left, top, right, bottom] = panel.box;
  const yWidth = left - panel.rX + 40;
  const canvas = document.createElement('canvas');
  canvas.width = yWidth + (right - left) + panel.rm;
  canvas.height = TITLE_BOX + (bottom - top) + AXIS_BOX;
  canvas.style.left = (left - yWidth) + 'px';
  canvas.style.top = (top - TITLE_BOX) + 'px';
  page.appendChild(canvas);

  new Chart(canvas, {
    type: 'line',
    plugins: [matlabBox],
    data: {
      labels: yearsA,
      datasets: panel.rows.map((row, j) => ({
        data: row,
        borderColor: lineColors[j % 7],
        borderWidth: 2,
        pointRadius: 0,
        tension: 0,
        fill: false,
        order: -j
      }))
    },
    options: {
      responsive: false,
      animation: false,
      devicePixelRatio: 1,
      layout: { padding: { right: panel.rm } },
      plugins: {
        legend: { display: false },
        tooltip: { enabled: false },
        matlabBox: { rOffset: left - panel.rX },
        title: {
          display: true,
          text: panel.title,
          fullSize: false,
          color: '#000',
          font: { family: FONT, size: 45, weight: 'bold', lineHeight: 1 },
          padding: { top: 3, bottom: TITLE_BOX - 48 }
        }
      },
      scales: {
        x: {
          type: 'linear',
          min: 1,
          max: panel.xMax,
          grid: { display: false },
          border: { display: false },
          afterBuildTicks: s => { s.ticks = panel.xT.map(v => ({ value: v })); },
          afterFit: s => { s.height = AXIS_BOX; },
          ticks: {
            autoSkip: false,
            maxRotation: 0,
            padding: 16,
            color: TEXT,
            font: { family: FONT, size: 39 },
            callback: v => String(v)
          }
        },
        y: {
          min: panel.yT[0],
          max: 1,
          grid: { display: false },
          border: { display: false },
          afterBuildTicks: s => { s.ticks = panel.yT.map(v => ({ value: v })); },
          afterFit: s => { s.width = yWidth; },
          ticks: {
            autoSkip: false,
            padding: 10,
            labelOffset: 5,
            color: TEXT,
            font: { family: FONT, size: 40 },
            callback: (v, i) => panel.yL[i]
          }
        }
      }
    }
  });
});

captions.forEach(([open, letter, close, y]) => {
  const cap = document.createElement('div');
  cap.className = 'cap';
  cap.style.left = '858px';
  cap.style.top = (y - 20) + 'px';
  cap.innerHTML = open + '<b>' + letter + '</b>' + close;
  page.appendChild(cap);
});
</script>
</body>
</html>
